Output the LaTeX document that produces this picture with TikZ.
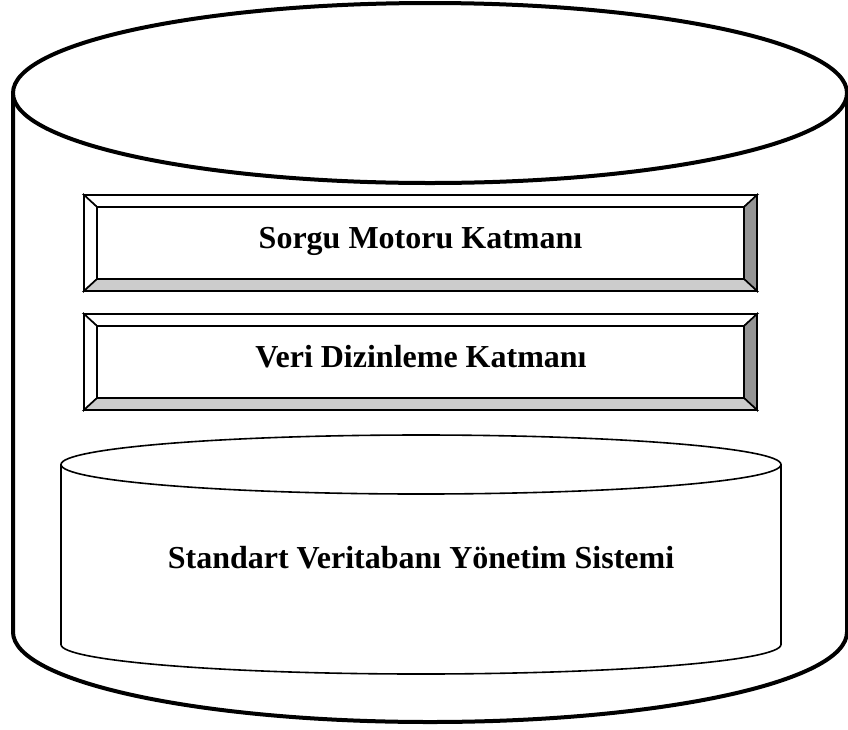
\documentclass[tikz,border=0pt]{standalone}
\usepackage{fontspec}
\setmainfont{Liberation Serif}
\usetikzlibrary{calc}
\begin{document}
\begin{tikzpicture}[x=1pt,y=-1pt,
  outercyl/.style={line width=4pt,fill=white},
  innercyl/.style={line width=1.6pt,fill=white},
  bevel/.style={line width=1.6pt,line join=miter},
  face/.style={fill=white},
  shadelight/.style={fill=black!20},
  shadedark/.style={fill=black!42},
  label/.style={font=\fontsize{32}{36}\selectfont\bfseries,inner sep=0pt,anchor=base}]
\useasboundingbox (0,0) rectangle (848,729);

% outer database cylinder
\draw[outercyl] (13,93) -- (13,632) arc[start angle=180,end angle=0,x radius=417,y radius=90] -- (847,93);
\draw[outercyl] (430,93) ellipse[x radius=417,y radius=90];

% bevelled layer boxes
\foreach \t/\b/\nm in {195/291/q,314/410/d}{
  \pgfmathsetmacro{\ti}{\t+12}
  \pgfmathsetmacro{\bi}{\b-12}
  \coordinate (\nm-o1) at (84,\t);
  \coordinate (\nm-o2) at (757,\t);
  \coordinate (\nm-o3) at (757,\b);
  \coordinate (\nm-o4) at (84,\b);
  \coordinate (\nm-i1) at (97,\ti);
  \coordinate (\nm-i2) at (744,\ti);
  \coordinate (\nm-i3) at (744,\bi);
  \coordinate (\nm-i4) at (97,\bi);
  \draw[bevel,face] (\nm-o1) -- (\nm-o2) -- (\nm-i2) -- (\nm-i1) -- cycle;
  \draw[bevel,face] (\nm-o1) -- (\nm-i1) -- (\nm-i4) -- (\nm-o4) -- cycle;
  \draw[bevel,shadedark] (\nm-o2) -- (\nm-o3) -- (\nm-i3) -- (\nm-i2) -- cycle;
  \draw[bevel,shadelight] (\nm-o4) -- (\nm-i4) -- (\nm-i3) -- (\nm-o3) -- cycle;
  \draw[bevel,face] (\nm-i1) rectangle (\nm-i3);
}
\node[label] (query) at (420.5,248) {Sorgu Motoru Katmanı};
\node[label] (index) at (421,367.5) {Veri Dizinleme Katmanı};

% inner database cylinder
\draw[innercyl] (61,464.5) -- (61,644.5) arc[start angle=180,end angle=0,x radius=360,y radius=29.5] -- (781,464.5);
\draw[innercyl] (421,464.5) ellipse[x radius=360,y radius=29.5];
\node[label] (dbms) at (421,568) {Standart Veritabanı Yönetim Sistemi};
\end{tikzpicture}
\end{document}
